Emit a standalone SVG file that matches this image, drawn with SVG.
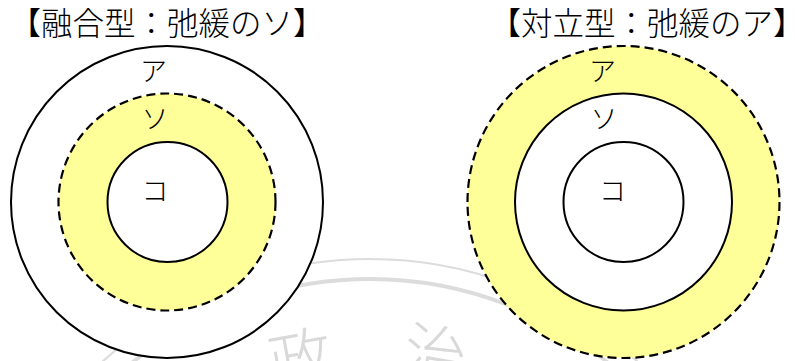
<svg xmlns="http://www.w3.org/2000/svg" width="795" height="361" viewBox="0 0 795 361">
<style>
.wm{fill:none;stroke:#dcdcdc}
.wmt{fill:#d9d9d9;font-family:"Noto Sans CJK TC","Noto Sans CJK SC",sans-serif;font-size:64px;font-weight:300}
.solid{stroke:#000;stroke-width:2;fill:#fff}
.dash{stroke:#000;stroke-width:2.2;stroke-dasharray:9 5;fill:#ffff99}
.title{font-family:"Noto Sans CJK JP","Noto Sans CJK SC",sans-serif;font-size:31.5px;font-weight:300;fill:#000}
.lbl{font-family:"Noto Sans CJK JP","Noto Sans CJK SC",sans-serif;font-size:27px;font-weight:300;fill:#000;text-anchor:middle}
</style>
<rect width="795" height="361" fill="#fff"/>
<g id="watermark">
<circle class="wm" cx="370" cy="659" r="400" stroke-width="2.2"/>
<circle class="wm" cx="370" cy="659" r="380" stroke-width="3.8"/>
<text class="wmt" x="300" y="382" text-anchor="middle" transform="rotate(-10 300 355)">政</text>
<text class="wmt" x="436" y="378" text-anchor="middle" transform="rotate(10 436 350)">治</text>
</g>
<g id="title-left"><text class="title" x="9.5" y="35">【融合型：弛緩のソ】</text></g>
<g id="title-right"><text class="title" x="489.5" y="35">【対立型：弛緩のア】</text></g>
<g id="left-outer"><circle class="solid" cx="167" cy="202" r="156"/><text class="lbl" x="153.5" y="81">ア</text></g>
<g id="left-middle"><circle class="dash" cx="167" cy="202" r="108.5"/><text class="lbl" x="155" y="129">ソ</text></g>
<g id="left-inner"><circle class="solid" cx="167.5" cy="202" r="60"/><text class="lbl" x="155" y="201">コ</text></g>
<g id="right-outer"><circle class="dash" cx="623.5" cy="202" r="156"/><text class="lbl" x="602.5" y="81">ア</text></g>
<g id="right-middle"><circle class="solid" cx="623.5" cy="202" r="108.5"/><text class="lbl" x="604" y="129">ソ</text></g>
<g id="right-inner"><circle class="solid" cx="623.5" cy="202" r="60"/><text class="lbl" x="612.5" y="201">コ</text></g>
<g id="connectors"/>
</svg>
